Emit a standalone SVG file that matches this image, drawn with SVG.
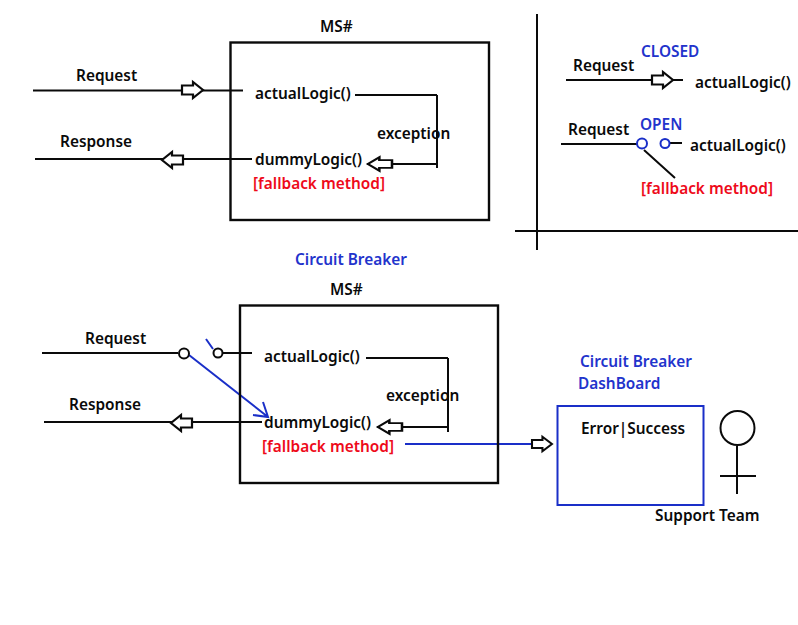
<svg xmlns="http://www.w3.org/2000/svg" width="798" height="625" viewBox="0 0 798 625">
<style>
text{font-family:"Noto Sans","Open Sans","Liberation Sans",sans-serif;font-size:15.4px;font-weight:600;fill:#0a0a0a}
.r{fill:#ee0a1a}
.b{fill:#2233cc}
.l{fill:none;stroke:#0a0a0a;stroke-width:2}
.bl{fill:none;stroke:#1a2fc8;stroke-width:2}
.c{fill:#fff;stroke:#1a2fc8;stroke-width:2}
.k{fill:#fff;stroke:#0a0a0a;stroke-width:2}
.box{fill:none;stroke:#0a0a0a;stroke-width:2.4}
</style>
<defs>
<path id="ar" d="M0-4.500H11V-8L21 0 11 8V4.500H0Z" fill="#fff" stroke="#0a0a0a" stroke-width="2.200"/>
</defs>
<rect width="798" height="625" fill="#fff"/>
<g id="connectors">
<path class="l" d="M33 90.500H243M355 95H437M437 95V168M437 164H367M35 159H252"/>
<use href="#ar" x="182" y="90"/>
<use href="#ar" transform="translate(183 160) scale(-1 1)"/>
<use href="#ar" transform="translate(392 164) scale(-1.150 .85)"/>
<path class="l" d="M515 231H798M537 14V250"/>
<path class="l" d="M566 80H683"/>
<use href="#ar" x="652" y="80"/>
<path class="l" d="M561 144H638M670 143H682M644 150L675 178"/>
<path class="l" d="M42 353H178M222 353H252M366 358H448M448 358V432M448 427H377M44 422H262"/>
<use href="#ar" transform="translate(192 423) scale(-1 1)"/>
<use href="#ar" transform="translate(402 427) scale(-1.150 .85)"/>
<path class="bl" d="M206 339L213 349M189 355L268 417M253 415L268 417L263 402M405 444H532"/>
<use href="#ar" transform="translate(532 444) scale(.95 .9)"/>
<path class="l" d="M737 446V494M720 476H756"/>
</g>
<g id="ms-top">
<rect class="box" x="230.500" y="42.500" width="258.500" height="177.500"/>
<text x="320" y="32">MS#</text>
<text x="255" y="99">actualLogic()</text>
<text x="255" y="165">dummyLogic()</text>
<text class="r" x="253" y="189">[fallback method]</text>
<text x="377" y="139">exception</text>
</g>
<g id="top-labels">
<text x="76" y="81">Request</text>
<text x="60" y="147">Response</text>
</g>
<g id="state-closed">
<text x="573" y="71">Request</text>
<text class="b" x="641" y="57">CLOSED</text>
<text x="695" y="88">actualLogic()</text>
</g>
<g id="state-open">
<text x="568" y="135">Request</text>
<text class="b" x="640" y="130">OPEN</text>
<text x="690" y="151">actualLogic()</text>
<text class="r" x="641" y="194">[fallback method]</text>
<circle class="c" cx="642" cy="143.500" r="5"/>
<circle class="c" cx="665" cy="143.500" r="4.500"/>
</g>
<text class="b" x="295" y="265">Circuit Breaker</text>
<g id="ms-bottom">
<rect class="box" x="240" y="305.500" width="258" height="177.500"/>
<text x="330" y="295">MS#</text>
<text x="264" y="362">actualLogic()</text>
<text x="264" y="428">dummyLogic()</text>
<text class="r" x="262" y="452">[fallback method]</text>
<text x="386" y="401">exception</text>
</g>
<g id="bottom-labels">
<text x="85" y="344">Request</text>
<text x="69" y="410">Response</text>
<circle class="k" cx="184" cy="353.500" r="5"/>
<circle class="k" cx="218" cy="353" r="4.500"/>
</g>
<g id="dashboard">
<rect x="557.500" y="406" width="146" height="99" fill="none" stroke="#1a2fc8" stroke-width="2"/>
<text class="b" x="580" y="367">Circuit Breaker</text>
<text class="b" x="578" y="389">DashBoard</text>
<text x="581" y="434">Error|Success</text>
</g>
<g id="support-team">
<circle class="k" cx="737.500" cy="428" r="17"/>
<text x="655" y="521">Support Team</text>
</g>
</svg>
